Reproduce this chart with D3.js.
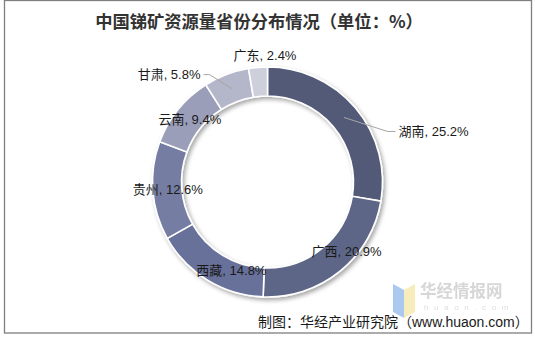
<!DOCTYPE html>
<html>
<head>
<meta charset="utf-8">
<script src="https://cdn.jsdelivr.net/npm/d3@7/dist/d3.min.js"></script>
<style>
  html, body { margin: 0; padding: 0; background: #fff; }
  svg { display: block; }
  text { font-family: "Liberation Sans", "Noto Sans CJK SC", sans-serif; }
</style>
</head>
<body>
<svg id="chart" width="535" height="337"></svg>
<script>
// Provinces and their share of China's antimony reserves (%)
const provinces = ["湖南", "广西", "西藏", "贵州", "云南", "甘肃", "广东"];
const shares = [25.2, 20.9, 14.8, 12.6, 9.4, 5.8, 2.4];
const sliceColors = ["#525a78", "#5d6687", "#68719a", "#747da2", "#9a9eb9", "#b4b7ca", "#cdd0db"];

// Label placement: "in" sits on the ring, "out" uses a leader line
const labelMode = ["out", "in", "in", "in", "in", "out", "above"];
// Small nudges for ring labels so they don't collide with neighbours
const labelNudge = [[0, 0], [16, -8], [16, 3], [0, 0], [0, 0], [0, 0], [0, 0]];

const W = 535, H = 337;
const cx = 267.5, cy = 182;
const rOuter = 115, rInner = 86;

const svg = d3.select("#chart");

const defs = svg.append("defs");
const shadow = defs.append("filter").attr("id", "ringShadow")
  .attr("x", "-20%").attr("y", "-20%").attr("width", "140%").attr("height", "140%");
shadow.append("feDropShadow")
  .attr("dx", 2).attr("dy", 2.5).attr("stdDeviation", 2.2)
  .attr("flood-color", "#000").attr("flood-opacity", 0.35);

// Frame
svg.append("rect")
  .attr("x", 4.5).attr("y", 0.5).attr("width", 527).attr("height", 332.5)
  .attr("fill", "#fff").attr("stroke", "#7f7f7f").attr("stroke-width", 1.3);

// Title
svg.append("text")
  .attr("x", 259).attr("y", 28)
  .attr("text-anchor", "middle")
  .style("font-family", "'Noto Sans CJK SC', sans-serif")
  .style("font-size", "17.3px").style("font-weight", "bold")
  .attr("fill", "#333")
  .text("中国锑矿资源量省份分布情况（单位：%）");

// Watermark logo and name
const wm = svg.append("g").attr("opacity", 0.75);
wm.append("path").attr("d", "M393,284 L404,290 L404,318 L393,312 Z").attr("fill", "#8fb6ec");
wm.append("path").attr("d", "M404,290 L415,284 L415,312 L404,318 Z").attr("fill", "#f5e7a6");
wm.append("text").attr("x", 420).attr("y", 297)
  .style("font-family", "'Noto Sans CJK SC', sans-serif")
  .style("font-size", "16.5px").style("font-weight", "bold")
  .attr("fill", "#c9c9c9").text("华经情报网");
wm.append("text").attr("x", 424).attr("y", 310)
  .style("font-size", "8px").attr("letter-spacing", "5.6px")
  .attr("fill", "#d2d2d2").text("huaon.com");

// Donut
const pie = d3.pie().sort(null).value(d => d.value);
const arcs = pie(provinces.map((p, i) => ({ name: p, value: shares[i], i })));
const arc = d3.arc().innerRadius(rInner).outerRadius(rOuter);
const midArc = d3.arc().innerRadius(100).outerRadius(100);

const g = svg.append("g").attr("transform", `translate(${cx},${cy})`);
g.append("g").attr("filter", "url(#ringShadow)")
  .selectAll("path").data(arcs).join("path")
  .attr("d", arc)
  .attr("fill", d => sliceColors[d.data.i])
  .attr("stroke", "#fff").attr("stroke-width", 1.6);

// Labels
const fmt = d => `${d.data.name}, ${d.data.value}%`;
const labelStyle = sel => sel
  .style("font-size", "13px")
  .attr("fill", "#1a1a1a");

arcs.forEach(d => {
  const i = d.data.i;
  const [mx, my] = midArc.centroid(d);
  if (labelMode[i] === "in") {
    g.append("text")
      .attr("x", mx + labelNudge[i][0]).attr("y", my + labelNudge[i][1])
      .attr("text-anchor", "middle").attr("dy", "0.36em")
      .call(labelStyle).text(fmt(d));
  } else if (labelMode[i] === "above") {
    const [ox, oy] = d3.arc().innerRadius(rOuter).outerRadius(rOuter).centroid(d);
    g.append("text")
      .attr("x", ox + 7).attr("y", oy - 7)
      .attr("text-anchor", "middle")
      .call(labelStyle).text(fmt(d));
  } else {
    const right = mx > 0;
    const ex = right ? 120 : -58;
    const ey = my + (right ? 14 : -14);
    const hx = ex + (right ? 8 : -6);
    g.append("polyline")
      .attr("points", `${mx},${my} ${ex},${ey} ${hx},${ey}`)
      .attr("fill", "none").attr("stroke", "#a6a6a6").attr("stroke-width", 1);
    g.append("text")
      .attr("x", hx + (right ? 3 : -3)).attr("y", ey)
      .attr("dy", "0.36em")
      .attr("text-anchor", right ? "start" : "end")
      .call(labelStyle).text(fmt(d));
  }
});

// Source line
svg.append("text")
  .attr("x", 258).attr("y", 327)
  .style("font-size", "14px")
  .attr("fill", "#1a1a1a")
  .text("制图：华经产业研究院（www.huaon.com）");
</script>
</body>
</html>
